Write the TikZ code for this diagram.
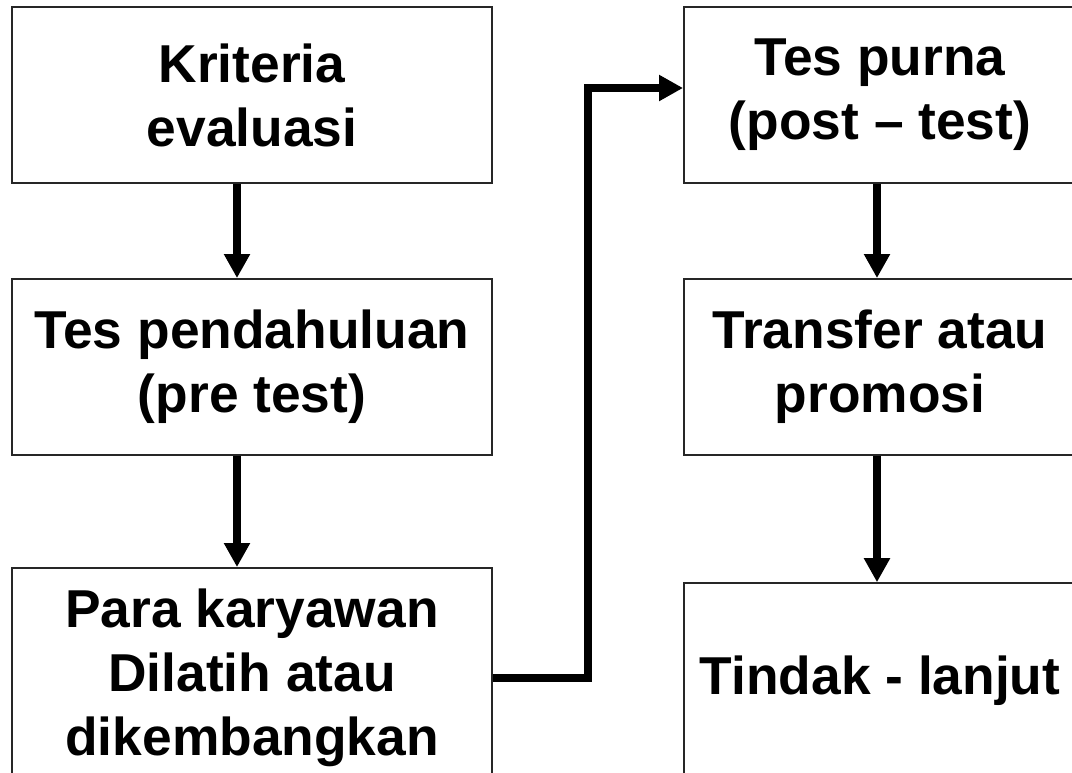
\documentclass[tikz,border=0pt]{standalone}
\usepackage{fontspec}
\setmainfont{Liberation Sans}
\usetikzlibrary{arrows.meta}
\begin{document}
\begin{tikzpicture}[x=0.75pt,y=-0.75pt,
  flowbox/.style={draw=black!85, line width=1.4pt, fill=white, align=center,
    font=\fontsize{40}{48}\selectfont\bfseries, inner sep=0pt},
  leftbox/.style={flowbox, minimum width=360pt},
  rightbox/.style={flowbox, minimum width=294pt},
  arr/.style={line width=6pt, -{Triangle[width=18.5pt,length=18pt]}, line join=miter}]
\useasboundingbox (0,0) rectangle (1072,772);
\clip (0,0) rectangle (1072,772);
\fill[white] (0,0) rectangle (1072,772);
% left column
\node[leftbox, minimum height=132pt] (b1) at (252,95) {Kriteria\\evaluasi};
\node[leftbox, minimum height=132pt] (b2) at (252,367) {Tes pendahuluan\\(pre test)};
\node[leftbox, minimum height=165pt] (b3) at (252,678) {Para karyawan\\Dilatih atau\\dikembangkan};
% right column
\node[rightbox, minimum height=132pt] (b4) at (880,95) {Tes purna\\(post -- test)};
\node[rightbox, minimum height=132pt] (b5) at (880,367) {Transfer atau\\promosi};
\node[rightbox, minimum height=146pt] (b6) at (880,680.5) {\raisebox{4.5pt}{Tindak - lanjut}};
% arrow columns
\coordinate (xl) at (237,0);
\coordinate (xr) at (877,0);
\coordinate (xm) at (588,0);
\coordinate (in4) at ([yshift=5.25pt]b4.west);
\draw[arr] (b1.south -| xl) -- (b2.north -| xl);
\draw[arr] (b2.south -| xl) -- (b3.north -| xl);
\draw[arr] (b4.south -| xr) -- (b5.north -| xr);
\draw[arr] (b5.south -| xr) -- (b6.north -| xr);
\draw[arr] (b3.east) -| (xm |- in4) -- (in4);
\end{tikzpicture}
\end{document}
